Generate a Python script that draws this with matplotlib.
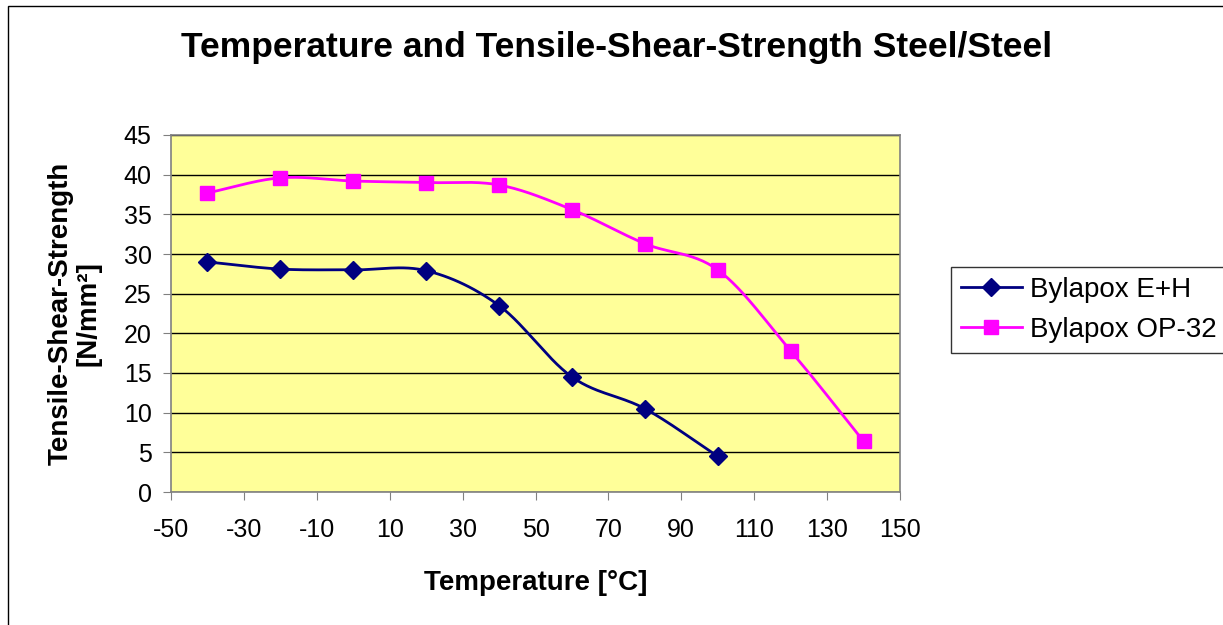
import numpy as np
import matplotlib.pyplot as plt
from matplotlib.patches import Rectangle

plt.rcParams['font.family'] = ['Liberation Sans', 'DejaVu Sans']
plt.rcParams['axes.unicode_minus'] = False

temp_eh = [-40, -20, 0, 20, 40, 60, 80, 100]
strength_eh = [29.0, 28.1, 28.0, 27.9, 23.5, 14.5, 10.5, 4.5]

temp_op = [-40, -20, 0, 20, 40, 60, 80, 100, 120, 140]
strength_op = [37.7, 39.6, 39.2, 39.0, 38.7, 35.6, 31.3, 28.0, 17.8, 6.4]

xticks = list(range(-50, 151, 20))
yticks = list(range(0, 46, 5))


def smooth(x, y, n=30):
    # catmull-rom, like excel's smoothed line
    x = np.asarray(x, float)
    y = np.asarray(y, float)
    px = np.concatenate([[2 * x[0] - x[1]], x, [2 * x[-1] - x[-2]]])
    py = np.concatenate([[2 * y[0] - y[1]], y, [2 * y[-1] - y[-2]]])
    xs, ys = [], []
    t = np.linspace(0, 1, n)
    for i in range(1, len(px) - 2):
        for p, out in ((px, xs), (py, ys)):
            p0, p1, p2, p3 = p[i - 1], p[i], p[i + 1], p[i + 2]
            out.extend(0.5 * (2 * p1 + (-p0 + p2) * t
                              + (2 * p0 - 5 * p1 + 4 * p2 - p3) * t ** 2
                              + (-p0 + 3 * p1 - 3 * p2 + p3) * t ** 3))
    return xs, ys


fig = plt.figure(figsize=(12.23, 6.25), dpi=100)
fig.patches.append(Rectangle((8 / 1223, -0.1), 1.2, 1.1 - 6 / 625, transform=fig.transFigure,
                             fill=False, edgecolor='black', linewidth=1))
ax = fig.add_axes([171 / 1223, 1 - 492 / 625, 729 / 1223, 357 / 625])
ax.set_facecolor('#FFFF99')

navy = '#000080'
magenta = '#FF00FF'

sx, sy = smooth(temp_eh, strength_eh)
ax.plot(sx, sy, color=navy, lw=2, zorder=3)
ax.plot(temp_eh, strength_eh, ls='none', marker='D', ms=9, color=navy, zorder=4)
sx, sy = smooth(temp_op, strength_op)
ax.plot(sx, sy, color=magenta, lw=2, zorder=3)
ax.plot(temp_op, strength_op, ls='none', marker='s', ms=10, color=magenta, zorder=4)

ax.plot([], [], color=navy, lw=2, marker='D', ms=9, label='Bylapox E+H')
ax.plot([], [], color=magenta, lw=2, marker='s', ms=10, label='Bylapox OP-32')

ax.set_xlim(-50, 150)
ax.set_ylim(0, 45)
ax.set_xticks(xticks)
ax.set_yticks(yticks)
ax.tick_params(direction='out', length=6, labelsize=18, color='#808080')
ax.tick_params(axis='x', pad=13)
ax.tick_params(axis='y', pad=8)
ax.yaxis.grid(True, color='black', lw=1)
ax.set_axisbelow(True)
for s in ax.spines.values():
    s.set_color('#808080')
    s.set_linewidth(1.2)

ax.set_xlabel('Temperature [°C]', fontsize=20, fontweight='bold', labelpad=20)
ax.set_ylabel('Tensile-Shear-Strength\n[N/mm²]', fontsize=20, fontweight='bold', labelpad=16,
              linespacing=1.1)
fig.text(617 / 1223, 1 - 48 / 625, 'Temperature and Tensile-Shear-Strength Steel/Steel',
         ha='center', va='center', fontsize=25.5, fontweight='bold')

leg = fig.legend(loc='center left', bbox_to_anchor=(951 / 1223, 1 - 310 / 625), fontsize=20,
                 frameon=True, fancybox=False, edgecolor='black', handlelength=2.2,
                 borderpad=0.35, labelspacing=0.5, handletextpad=0.3, borderaxespad=0)
leg.get_frame().set_linewidth(1)

fig.savefig('out.png', dpi=100)
